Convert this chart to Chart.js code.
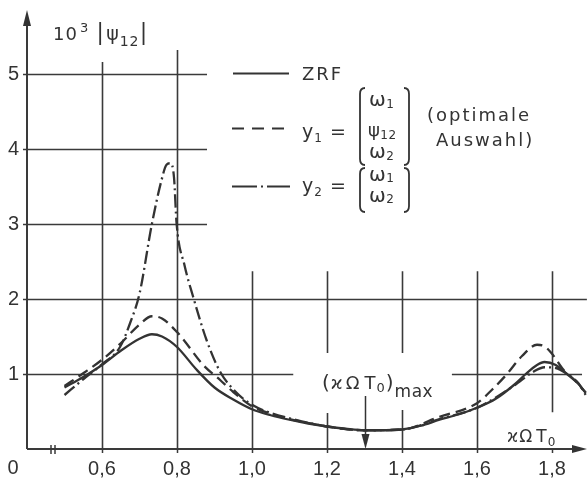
<!DOCTYPE html>
<html>
<head>
<meta charset="utf-8">
<script src="https://cdn.jsdelivr.net/npm/chart.js@4.4.1/dist/chart.umd.min.js"></script>
<style>
  html, body { margin: 0; padding: 0; background: #fff; }
  canvas { display: block; }
</style>
</head>
<body>
<canvas id="c" width="587" height="484"></canvas>
<script>
// ---- data ----
const ZRF_X = [0.50, 0.55, 0.60, 0.65, 0.70, 0.733, 0.76, 0.80, 0.85, 0.90, 0.95, 1.00, 1.05, 1.10, 1.15, 1.20, 1.25, 1.30, 1.35, 1.40, 1.45, 1.50, 1.55, 1.60, 1.65, 1.70, 1.73, 1.76, 1.78, 1.81, 1.84, 1.87, 1.89];
const ZRF_Y = [0.82, 0.96, 1.12, 1.31, 1.47, 1.53, 1.50, 1.36, 1.07, 0.82, 0.66, 0.53, 0.45, 0.39, 0.34, 0.30, 0.27, 0.25, 0.25, 0.26, 0.31, 0.39, 0.46, 0.55, 0.67, 0.86, 1.00, 1.12, 1.16, 1.12, 1.00, 0.87, 0.75];

const Y1_X = [0.50, 0.55, 0.60, 0.65, 0.70, 0.733, 0.76, 0.80, 0.82, 0.87, 0.915, 0.95, 1.00, 1.05, 1.10, 1.20, 1.30, 1.40, 1.50, 1.60, 1.64, 1.68, 1.72, 1.76, 1.78, 1.80, 1.83, 1.86, 1.89];
const Y1_Y = [0.84, 1.01, 1.19, 1.41, 1.66, 1.77, 1.74, 1.56, 1.44, 1.12, 0.92, 0.76, 0.57, 0.47, 0.40, 0.30, 0.25, 0.26, 0.43, 0.61, 0.79, 1.00, 1.24, 1.39, 1.37, 1.27, 1.06, 0.92, 0.75];

const Y2_X = [0.50, 0.55, 0.60, 0.648, 0.675, 0.70, 0.733, 0.759, 0.772, 0.783, 0.792, 0.799, 0.82, 0.843, 0.879, 0.915, 0.959, 1.00, 1.05, 1.10, 1.20, 1.30, 1.40, 1.50, 1.60, 1.70, 1.75, 1.78, 1.81, 1.84, 1.87, 1.89];
const Y2_Y = [0.72, 0.93, 1.13, 1.36, 1.68, 2.07, 3.00, 3.59, 3.79, 3.81, 3.62, 3.00, 2.45, 2.03, 1.45, 1.03, 0.75, 0.59, 0.48, 0.41, 0.30, 0.25, 0.26, 0.40, 0.55, 0.85, 1.03, 1.09, 1.08, 1.00, 0.88, 0.72];

const X_TICKS = [0.6, 0.8, 1.0, 1.2, 1.4, 1.6, 1.8];
const Y_TICKS = [1, 2, 3, 4, 5];
const MARKER_X = 1.3; // (κΩT0)max

// gridline segments in data units: [value, from, to]
const GRID_H = [[5, 0.4, 0.88], [4, 0.4, 0.88], [3, 0.4, 0.88], [2, 0.4, 1.893], [1, 0.4, 1.11], [1, 1.533, 1.88]];
const GRID_V = [[0.6, 0, 5.16], [0.8, 0, 5.32], [1.0, 0, 2.37], [1.2, 0, 0.48], [1.2, 1.28, 2.37],
                [1.4, 0, 0.52], [1.4, 1.28, 2.37], [1.6, 0, 2.37], [1.8, 0.49, 2.37]];

const INK = '#333';
const toPts = (xs, ys) => xs.map((x, i) => ({ x: x, y: ys[i] }));

function runs(ctx, x, y, parts, spacing) {
  ctx.save();
  ctx.textBaseline = 'alphabetic';
  ctx.textAlign = 'left';
  ctx.letterSpacing = (spacing || 0) + 'px';
  for (const p of parts) {
    ctx.font = (p.s || 18) + 'px "DejaVu Sans"';
    ctx.fillText(p.t, x + (p.dx || 0), y + (p.dy || 0));
    x += ctx.measureText(p.t).width + (p.dx || 0);
  }
  ctx.restore();
  return x;
}

function bracket(ctx, x, top, bottom, dir) {
  ctx.beginPath();
  ctx.moveTo(x + 5 * dir, top);
  ctx.quadraticCurveTo(x, top, x, top + 6);
  ctx.lineTo(x, bottom - 6);
  ctx.quadraticCurveTo(x, bottom, x + 5 * dir, bottom);
  ctx.stroke();
}

const deco = {
  id: 'deco',
  beforeDatasetsDraw(chart) {
    const ctx = chart.ctx, xs = chart.scales.x, ys = chart.scales.y;
    ctx.save();
    ctx.strokeStyle = '#3a3a3a';
    ctx.lineWidth = 1.6;
    for (const [v, a, b] of GRID_H) {
      const py = Math.round(ys.getPixelForValue(v)) + 0.5;
      ctx.beginPath(); ctx.moveTo(xs.getPixelForValue(a), py); ctx.lineTo(xs.getPixelForValue(b), py); ctx.stroke();
    }
    for (const [v, a, b] of GRID_V) {
      const px = Math.round(xs.getPixelForValue(v)) + 0.5;
      ctx.beginPath(); ctx.moveTo(px, ys.getPixelForValue(a)); ctx.lineTo(px, ys.getPixelForValue(b)); ctx.stroke();
    }
    // axes
    const x0 = xs.left, y0 = ys.bottom;
    ctx.lineWidth = 2;
    ctx.beginPath(); ctx.moveTo(x0, y0); ctx.lineTo(x0, ys.top + 8); ctx.stroke();
    ctx.beginPath(); ctx.moveTo(x0, y0); ctx.lineTo(xs.right - 10, y0); ctx.stroke();
    ctx.fillStyle = '#333';
    ctx.beginPath(); ctx.moveTo(x0, ys.top - 4); ctx.lineTo(x0 - 4, ys.top + 12); ctx.lineTo(x0 + 4, ys.top + 12); ctx.closePath(); ctx.fill();
    ctx.beginPath(); ctx.moveTo(xs.right, y0); ctx.lineTo(xs.right - 15, y0 - 4); ctx.lineTo(xs.right - 15, y0 + 4); ctx.closePath(); ctx.fill();
    // ticks
    ctx.lineWidth = 1.5;
    for (const t of X_TICKS) {
      const px = Math.round(xs.getPixelForValue(t)) + 0.5;
      ctx.beginPath(); ctx.moveTo(px, y0); ctx.lineTo(px, y0 + 4); ctx.stroke();
    }
    for (const t of Y_TICKS) {
      const py = Math.round(ys.getPixelForValue(t)) + 0.5;
      ctx.beginPath(); ctx.moveTo(x0 - 4, py); ctx.lineTo(x0, py); ctx.stroke();
    }
    // axis break
    const bx = x0 + 24;
    ctx.lineWidth = 1.5;
    ctx.beginPath(); ctx.moveTo(bx, y0 - 4); ctx.lineTo(bx, y0 + 5); ctx.moveTo(bx + 4, y0 - 4); ctx.lineTo(bx + 4, y0 + 5); ctx.stroke();
    ctx.restore();
  },
  afterDraw(chart) {
    const ctx = chart.ctx, xs = chart.scales.x, ys = chart.scales.y;
    ctx.save();
    ctx.fillStyle = INK; ctx.strokeStyle = INK;
    // origin label
    ctx.font = '20px "Liberation Sans"';
    ctx.textAlign = 'center'; ctx.textBaseline = 'middle';
    ctx.fillText('0', 13, 468);
    // y title 10^3 |psi12|
    let x = runs(ctx, 53, 40, [{ t: '10', s: 18 }, { t: '3', s: 13, dy: -8, dx: 2 }], 1);
    ctx.lineWidth = 1.8;
    ctx.beginPath(); ctx.moveTo(x + 11, 22); ctx.lineTo(x + 11, 45); ctx.stroke();
    x = runs(ctx, x + 17, 40, [{ t: 'ψ', s: 19 }, { t: '12', s: 14, dy: 6 }], 1);
    ctx.beginPath(); ctx.moveTo(x + 4, 22); ctx.lineTo(x + 4, 45); ctx.stroke();
    // x title
    runs(ctx, 507, 442, [{ t: 'ϰΩ', s: 17 }, { t: 'T', s: 17, dx: 3 }, { t: '0', s: 12, dy: 4 }], 1);
    // (κΩT0)max marker
    let mx = runs(ctx, 322, 389, [{ t: '(', s: 20 }, { t: 'ϰ', s: 18 }, { t: 'Ω', s: 18, dx: 2 }, { t: 'T', s: 18, dx: 4 }, { t: '0', s: 13, dy: 3 }, { t: ')', s: 20 }], 1);
    runs(ctx, mx, 397, [{ t: 'max', s: 17 }], 0.5);
    const ax = Math.round(xs.getPixelForValue(MARKER_X)) + 0.5, ay = ys.bottom;
    ctx.lineWidth = 1.5;
    ctx.beginPath(); ctx.moveTo(ax, 396); ctx.lineTo(ax, ay - 10); ctx.stroke();
    ctx.beginPath(); ctx.moveTo(ax - 4, ay - 15); ctx.lineTo(ax + 4, ay - 15); ctx.lineTo(ax, ay); ctx.closePath(); ctx.fill();
    // legend lines
    ctx.lineWidth = 2.2;
    ctx.beginPath(); ctx.moveTo(233, 73.5); ctx.lineTo(289, 73.5); ctx.stroke();
    ctx.setLineDash([12, 8]);
    ctx.beginPath(); ctx.moveTo(232, 128.5); ctx.lineTo(290, 128.5); ctx.stroke();
    ctx.setLineDash([25, 4, 2, 4]);
    ctx.beginPath(); ctx.moveTo(232, 186.5); ctx.lineTo(290, 186.5); ctx.stroke();
    ctx.setLineDash([]);
    // legend texts
    runs(ctx, 302, 80, [{ t: 'ZRF', s: 18 }], 2);
    runs(ctx, 302, 138, [{ t: 'y', s: 19 }, { t: '1', s: 12, dy: 4 }, { t: ' =', s: 19 }], 1);
    runs(ctx, 302, 192, [{ t: 'y', s: 19 }, { t: '2', s: 12, dy: 4 }, { t: ' =', s: 19 }], 1);
    ctx.lineWidth = 1.8;
    bracket(ctx, 360, 88, 165, 1); bracket(ctx, 409, 88, 165, -1);
    bracket(ctx, 360, 168, 212, 1); bracket(ctx, 409, 168, 212, -1);
    runs(ctx, 369, 106, [{ t: 'ω', s: 20 }, { t: '1', s: 12, dy: 2 }], 0.5);
    runs(ctx, 368, 136, [{ t: 'ψ', s: 18 }, { t: '12', s: 12, dy: 3 }], 0.5);
    runs(ctx, 369, 158, [{ t: 'ω', s: 20 }, { t: '2', s: 12, dy: 2 }], 0.5);
    runs(ctx, 369, 181, [{ t: 'ω', s: 20 }, { t: '1', s: 12, dy: 1 }], 0.5);
    runs(ctx, 369, 202, [{ t: 'ω', s: 20 }, { t: '2', s: 12, dy: 1 }], 0.5);
    runs(ctx, 427, 121, [{ t: '(optimale', s: 18 }], 2);
    runs(ctx, 436, 146, [{ t: 'Auswahl)', s: 18 }], 2);
    ctx.restore();
  }
};

new Chart(document.getElementById('c'), {
  type: 'line',
  data: {
    datasets: [
      { label: 'ZRF', data: toPts(ZRF_X, ZRF_Y), borderColor: INK, borderWidth: 2.3 },
      { label: 'y1', data: toPts(Y1_X, Y1_Y), borderColor: INK, borderWidth: 2.3, borderDash: [11, 6] },
      { label: 'y2', data: toPts(Y2_X, Y2_Y), borderColor: INK, borderWidth: 2.3, borderDash: [13, 4, 2, 4] }
    ]
  },
  options: {
    responsive: false,
    animation: false,
    devicePixelRatio: 1,
    layout: { padding: { top: 14, left: 0, right: 0, bottom: 0 } },
    elements: { point: { radius: 0 }, line: { cubicInterpolationMode: 'monotone', fill: false } },
    plugins: { legend: { display: false }, tooltip: { enabled: false } },
    scales: {
      x: {
        type: 'linear', min: 0.4, max: 1.8933,
        grid: { display: false, drawTicks: false }, border: { display: false },
        afterBuildTicks: s => { s.ticks = X_TICKS.map(v => ({ value: v })); },
        afterFit: s => { s.height = 35; s.paddingLeft = 0; s.paddingRight = 0; },
        ticks: { color: INK, font: { family: 'Liberation Sans', size: 20 }, padding: 8, maxRotation: 0,
                 callback: v => v.toFixed(1).replace('.', ',') }
      },
      y: {
        type: 'linear', min: 0, max: 5.8,
        grid: { display: false, drawTicks: false }, border: { display: false },
        afterBuildTicks: s => { s.ticks = Y_TICKS.map(v => ({ value: v })); },
        afterFit: s => { s.width = 27; s.paddingTop = 0; s.paddingBottom = 0; },
        ticks: { color: INK, font: { family: 'Liberation Sans', size: 20 }, padding: 8,
                 callback: v => String(v) }
      }
    }
  },
  plugins: [deco]
});
</script>
</body>
</html>
